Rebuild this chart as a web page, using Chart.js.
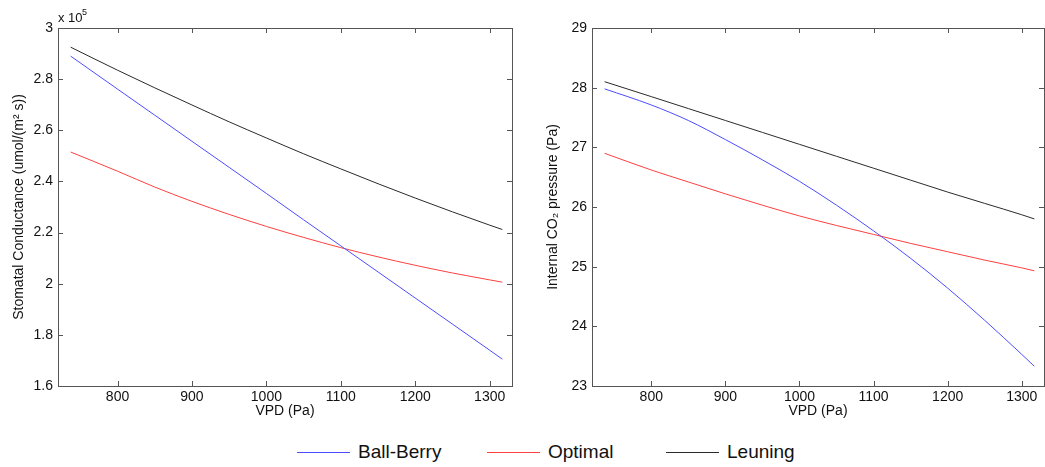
<!DOCTYPE html>
<html>
<head>
<meta charset="utf-8">
<script src="https://cdn.jsdelivr.net/npm/chart.js@4.4.1/dist/chart.umd.min.js"></script>
<style>
  body { margin: 0; background: #fff; font-family: "Liberation Sans", Arial, sans-serif; }
  #wrap { position: relative; width: 1045px; height: 467px; }
  #left { position: absolute; left: 0; top: 0; }
  #right { position: absolute; left: 535px; top: 0; }
  #legend { position: absolute; left: 0; top: 438px; width: 1045px; height: 28px; }
  .item { position: absolute; top: 0; font-size: 19px; color: #111; line-height: 28px; }
  .item span.ln { display: inline-block; width: 53px; height: 0; border-top: 1.5px solid; vertical-align: middle; margin-right: 8px; }
</style>
</head>
<body>
<div id="wrap">
  <canvas id="left" width="535" height="420"></canvas>
  <canvas id="right" width="510" height="420"></canvas>
  <div id="legend"></div>
</div>
<script>
const vpd = [737, 800, 850, 900, 950, 1000, 1050, 1100, 1150, 1200, 1250, 1300, 1317];
const vpdTicks = [800, 900, 1000, 1100, 1200, 1300];

// stomatal conductance, x 1e5 umol/(m2 s)
const ballBerryG = [2.89, 2.761, 2.659, 2.557, 2.455, 2.353, 2.25, 2.148, 2.046, 1.944, 1.842, 1.74, 1.705];
const optimalG   = [2.515, 2.44, 2.378, 2.322, 2.271, 2.224, 2.181, 2.141, 2.105, 2.072, 2.042, 2.015, 2.006];
const leuningG   = [2.925, 2.835, 2.766, 2.699, 2.633, 2.57, 2.508, 2.449, 2.391, 2.335, 2.281, 2.229, 2.212];

// internal CO2 pressure, Pa
const ballBerryCi = [27.98, 27.71, 27.45, 27.13, 26.79, 26.43, 26.03, 25.6, 25.14, 24.64, 24.1, 23.53, 23.33];
const optimalCi   = [26.9, 26.62, 26.42, 26.22, 26.03, 25.85, 25.69, 25.54, 25.39, 25.25, 25.11, 24.98, 24.93];
const leuningCi   = [28.1, 27.85, 27.65, 27.45, 27.25, 27.05, 26.85, 26.65, 26.45, 26.25, 26.06, 25.87, 25.8];

const seriesNames = ['Ball-Berry', 'Optimal', 'Leuning'];
const seriesColors = ['#4d4dff', '#ff4040', '#2a2a2a'];

const FONT = '"Liberation Sans", Arial, sans-serif';

// matlab-like box with inward ticks on all four sides
const boxPlugin = {
  id: 'box',
  afterDraw(chart) {
    const { ctx, chartArea: a, scales } = chart;
    ctx.save();
    ctx.strokeStyle = '#555';
    ctx.lineWidth = 1;
    ctx.strokeRect(Math.round(a.left) + 0.5, Math.round(a.top) + 0.5,
      Math.round(a.right - a.left), Math.round(a.bottom - a.top));
    const t = 5;
    ctx.beginPath();
    scales.x.ticks.forEach(tk => {
      const px = Math.round(scales.x.getPixelForValue(tk.value)) + 0.5;
      ctx.moveTo(px, a.bottom); ctx.lineTo(px, a.bottom - t);
      ctx.moveTo(px, a.top); ctx.lineTo(px, a.top + t);
    });
    scales.y.ticks.forEach(tk => {
      const py = Math.round(scales.y.getPixelForValue(tk.value)) + 0.5;
      ctx.moveTo(a.left, py); ctx.lineTo(a.left + t, py);
      ctx.moveTo(a.right, py); ctx.lineTo(a.right - t, py);
    });
    ctx.stroke();
    const ex = chart.options.plugins.box && chart.options.plugins.box.exponent;
    if (ex) {
      ctx.fillStyle = '#111';
      ctx.font = '13px ' + FONT;
      ctx.textBaseline = 'alphabetic';
      ctx.fillText('x 10', a.left, a.top - 6);
      ctx.font = '9px ' + FONT;
      ctx.fillText(ex, a.left + 24, a.top - 13);
    }
    ctx.restore();
  }
};

function makeChart(id, ys, yMin, yMax, yStep, yTitle, padR, yWidth, titlePad, exponent, decimals) {
  return new Chart(document.getElementById(id), {
    type: 'line',
    data: {
      datasets: ys.map((arr, i) => ({
        label: seriesNames[i],
        data: vpd.map((x, j) => ({ x: x, y: arr[j] })),
        borderColor: seriesColors[i],
        borderWidth: 1,
        pointRadius: 0,
        cubicInterpolationMode: 'monotone',
        fill: false
      }))
    },
    options: {
      responsive: false,
      animation: false,
      layout: { padding: { left: 0, right: padR, top: 28, bottom: 0 } },
      plugins: { legend: { display: false }, tooltip: { enabled: false }, box: { exponent: exponent } },
      scales: {
        x: {
          type: 'linear', min: 720, max: 1330,
          grid: { display: false, drawTicks: false }, border: { display: false },
          afterBuildTicks(s) { s.ticks = vpdTicks.map(v => ({ value: v })); },
          ticks: { color: '#111', font: { family: FONT, size: 14 }, padding: 3, callback: v => String(v) },
          title: { display: true, text: 'VPD (Pa)', color: '#111', font: { family: FONT, size: 14 }, padding: { top: 0, bottom: 0 } },
          afterFit(s) { s.height = 34; s.paddingLeft = 0; s.paddingRight = 0; }
        },
        y: {
          type: 'linear', min: yMin, max: yMax,
          grid: { display: false, drawTicks: false }, border: { display: false },
          ticks: {
            stepSize: yStep, color: '#111', font: { family: FONT, size: 14 }, padding: 5,
            callback: v => decimals ? (Math.abs(v - Math.round(v)) < 1e-9 ? String(Math.round(v)) : v.toFixed(1)) : String(v)
          },
          title: { display: true, text: yTitle, color: '#111', font: { family: FONT, size: 14 }, padding: { top: titlePad, bottom: 0 } },
          afterFit(s) { s.width = yWidth; }
        }
      }
    },
    plugins: [boxPlugin]
  });
}

makeChart('left', [ballBerryG, optimalG, leuningG], 1.6, 3, 0.2,
  'Stomatal Conductance (umol/(m\u00B2 s))', 23, 58, 11, '5', true);
makeChart('right', [ballBerryCi, optimalCi, leuningCi], 23, 29, 1,
  'Internal CO\u2082 pressure (Pa)', 1, 57, 10, null, false);

// legend shared by both panels
const legendX = [297, 487, 666];
const legend = document.getElementById('legend');
seriesNames.forEach((n, i) => {
  const d = document.createElement('div');
  d.className = 'item';
  d.style.left = legendX[i] + 'px';
  d.innerHTML = '<span class="ln" style="border-color:' + seriesColors[i] + '"></span>' + n;
  legend.appendChild(d);
});
</script>
</body>
</html>
